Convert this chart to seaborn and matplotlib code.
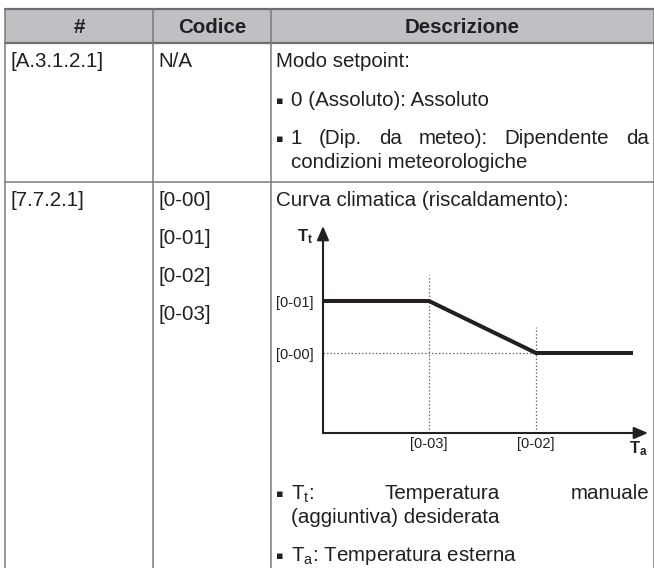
import numpy as np
import pandas as pd
import matplotlib.pyplot as plt
import seaborn as sns
from matplotlib.patches import Rectangle

# --- table content ---
headers = ["#", "Codice", "Descrizione"]
row1_id = "[A.3.1.2.1]"
row1_code = "N/A"
row1_title = "Modo setpoint:"
row1_opt0 = "0 (Assoluto): Assoluto"
row1_opt1 = ["1", "(Dip.", "da", "meteo):", "Dipendente", "da"]
row1_opt1_cont = "condizioni meteorologiche"
row2_id = "[7.7.2.1]"
row2_codes = ["[0-00]", "[0-01]", "[0-02]", "[0-03]"]
row2_title = "Curva climatica (riscaldamento):"
note_tt = [r"T$_\mathrm{t}$:", "Temperatura", "manuale"]
note_tt_cont = "(aggiuntiva) desiderata"
note_ta = r"T$_\mathrm{a}$: Temperatura esterna"

# --- weather dependent curve (arbitrary units) ---
curve_x = [0, 106, 213, 310]
curve_y = [132, 132, 80, 80]
x_ticks = [106, 213]
x_labels = ["[0-03]", "[0-02]"]
y_ticks = [80, 132]
y_labels = ["[0-00]", "[0-01]"]
x_max, y_max = 325, 207

sns.set_theme(style="white")
plt.rcParams['font.family'] = ['Liberation Sans', 'DejaVu Sans']
plt.rcParams['mathtext.fontset'] = 'custom'
plt.rcParams['mathtext.rm'] = 'Liberation Sans'
plt.rcParams['mathtext.bf'] = 'Liberation Sans:bold'

INK = '#231f20'
FS = 14.8
W, H = 654, 568

fig = plt.figure(figsize=(W / 100, H / 100), dpi=100)
bg = fig.add_axes([0, 0, 1, 1])
bg.set_xlim(0, W)
bg.set_ylim(H, 0)
bg.axis('off')

col_x = [5, 153, 271, 653.5]
top, head_bot, row_bot = 9, 43, 182

# header band and grid lines
bg.add_patch(Rectangle((col_x[0], top), col_x[-1] - col_x[0], head_bot - top,
                       fc='#bfc0c4', ec='none'))
for y in (top, head_bot):
    bg.plot([col_x[0], col_x[-1]], [y, y], color='#6d6e71', lw=1.6)
bg.plot([col_x[0], col_x[-1]], [row_bot, row_bot], color='#7a7a7a', lw=1.1)
for x in col_x:
    bg.plot([x, x], [top, H], color='#7a7a7a', lw=1.1)

for i, h in enumerate(headers):
    bg.text((col_x[i] + col_x[i + 1]) / 2, 33, h, fontsize=FS, fontweight='bold',
            color=INK, ha='center', va='baseline')

renderer = fig.canvas.get_renderer()


def body(x, y, s):
    return bg.text(x, y, s, fontsize=FS, color=INK, va='baseline')


def bullet(y):
    bg.text(276, y - 5, "\u25aa", fontsize=8, color=INK, va='center',
            family=['DejaVu Sans'])


def justify(words, x0, x1, y):
    arts = [body(x0, y, w) for w in words]
    widths = [a.get_window_extent(renderer).width for a in arts]
    gap = (x1 - x0 - sum(widths)) / (len(words) - 1)
    x = x0
    for a, w in zip(arts, widths):
        a.set_x(x)
        x += w + gap


# row 1
body(10, 67, row1_id)
body(158, 67, row1_code)
body(276, 67, row1_title)
bullet(106)
body(291, 106, row1_opt0)
bullet(144)
justify(row1_opt1, 291, 649, 144)
body(291, 168, row1_opt1_cont)

# row 2
body(10, 206, row2_id)
for i, c in enumerate(row2_codes):
    body(158, 206 + 38 * i, c)
body(276, 206, row2_title)
bullet(499)
justify(note_tt, 291, 649, 499)
body(291, 523, note_tt_cont)
bullet(561)
body(291, 561, note_ta)

# --- curve chart ---
ax = fig.add_axes([323 / W, (H - 433) / H, x_max / W, y_max / H])
ax.set_facecolor('none')
sns.despine(ax=ax, left=True, bottom=True)
ax.set_xlim(0, x_max)
ax.set_ylim(0, y_max)

dot = dict(color='#6d6e71', lw=0.9, ls=(0, (1.2, 1.6)))
ax.plot([x_ticks[0], x_ticks[0]], [0, y_ticks[1] + 26], **dot)
ax.plot([x_ticks[1], x_ticks[1]], [0, y_ticks[0] + 26], **dot)
ax.plot([0, x_ticks[1]], [y_ticks[0], y_ticks[0]], **dot)

sns.lineplot(x=curve_x, y=curve_y, ax=ax, color=INK, lw=2.9,
             solid_capstyle='butt', solid_joinstyle='miter')

arrow = dict(arrowstyle='-|>,head_length=0.7,head_width=0.3', lw=1.5,
             color=INK, shrinkA=0, shrinkB=0)
ax.annotate('', xy=(x_max, 0), xytext=(0, 0), arrowprops=arrow, annotation_clip=False)
ax.annotate('', xy=(0, y_max), xytext=(0, 0), arrowprops=arrow, annotation_clip=False)

ax.set_xticks(x_ticks, x_labels)
ax.set_yticks(y_ticks, y_labels)
ax.tick_params(axis='both', length=0, labelsize=10.5, colors=INK)
ax.tick_params(axis='x', pad=3)
ax.tick_params(axis='y', pad=7)
ax.grid(False)

ax.text(-0.031, 0.995, r'$\mathbf{T_t}$', transform=ax.transAxes, fontsize=12,
        color=INK, ha='right', va='top')
ax.text(1.0, -0.03, r'$\mathbf{T_a}$', transform=ax.transAxes, fontsize=12,
        color=INK, ha='right', va='top')

fig.savefig('out.png', dpi=100)
